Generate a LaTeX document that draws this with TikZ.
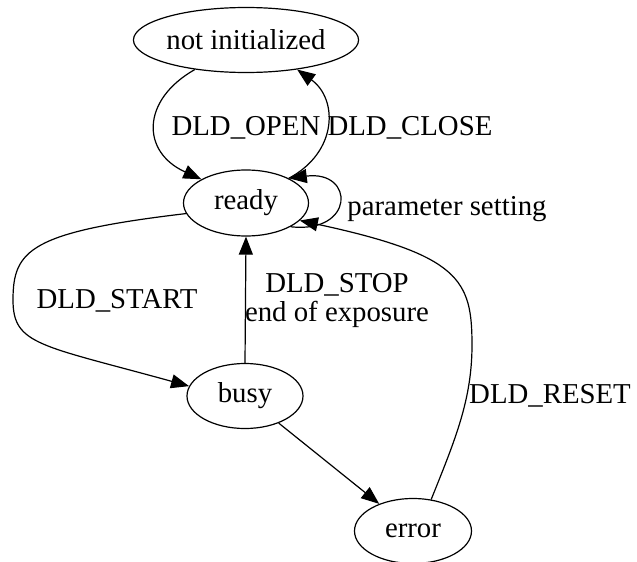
\documentclass[tikz,border=0pt]{standalone}
\usepackage{fontspec}
\setmainfont{Liberation Serif}
\usetikzlibrary{shapes.geometric,arrows.meta}

\begin{document}
\begin{tikzpicture}[x=0.5pt, y=-0.5pt, line width=0.6pt,
        font=\fontsize{14.4pt}{14.5pt}\selectfont,
        state/.style={draw, ellipse, inner sep=0pt, minimum height=32.5pt},
        trans/.style={-{Triangle[length=9pt,width=7pt]}},
        lbl/.style={anchor=base, inner sep=0pt}]

        \useasboundingbox (0,0) rectangle (637,562);

        % --- STATES ---
        \node[state, minimum width=111pt] (notinit) at (246,40)  {not initialized};
        \node[state, minimum width=62.5pt, minimum height=33pt] (ready) at (246,203) {ready};
        \node[state, minimum width=58pt]  (busy)    at (245,396) {busy};
        \node[state, minimum width=58.5pt] (error)  at (413,531) {error};

        % --- OPEN / CLOSE ---
        \draw[trans] (notinit.210) .. controls (141,100) and (141,152) .. (ready.152);
        \draw[trans] (ready.30) .. controls (338,152) and (338,99) .. (notinit.-30);
        \node[lbl] (lopen)  at (246,135) {DLD\_OPEN};
        \node[lbl] (lclose) at (410,135) {DLD\_CLOSE};

        % --- SELF LOOP ---
        \draw[trans] (ready.-28) .. controls (355,234) and (355,170) .. (ready.30);
        \node[lbl] (lparam) at (447,215) {parameter setting};

        % --- START / STOP ---
        \draw[trans] (ready.190) .. controls (30,232) and (13,250) .. (13,300)
                     .. controls (13,345) and (40,345) .. (busy.170);
        \node[lbl] (lstart) at (117,308) {DLD\_START};
        \draw[trans] (busy.north) -- (ready.south);
        \node[align=center, inner sep=0pt] (lstop) at (337,301) {DLD\_STOP\\end of exposure};

        % --- ERROR / RESET ---
        \draw[trans] (busy) -- (error);
        \draw[trans] (error.60) .. controls (455,440) and (472,400) .. (472,345)
                     .. controls (472,280) and (460,255) .. (ready.-18);
        \node[lbl] (lreset) at (550,403) {DLD\_RESET};

    \end{tikzpicture}
\end{document}
